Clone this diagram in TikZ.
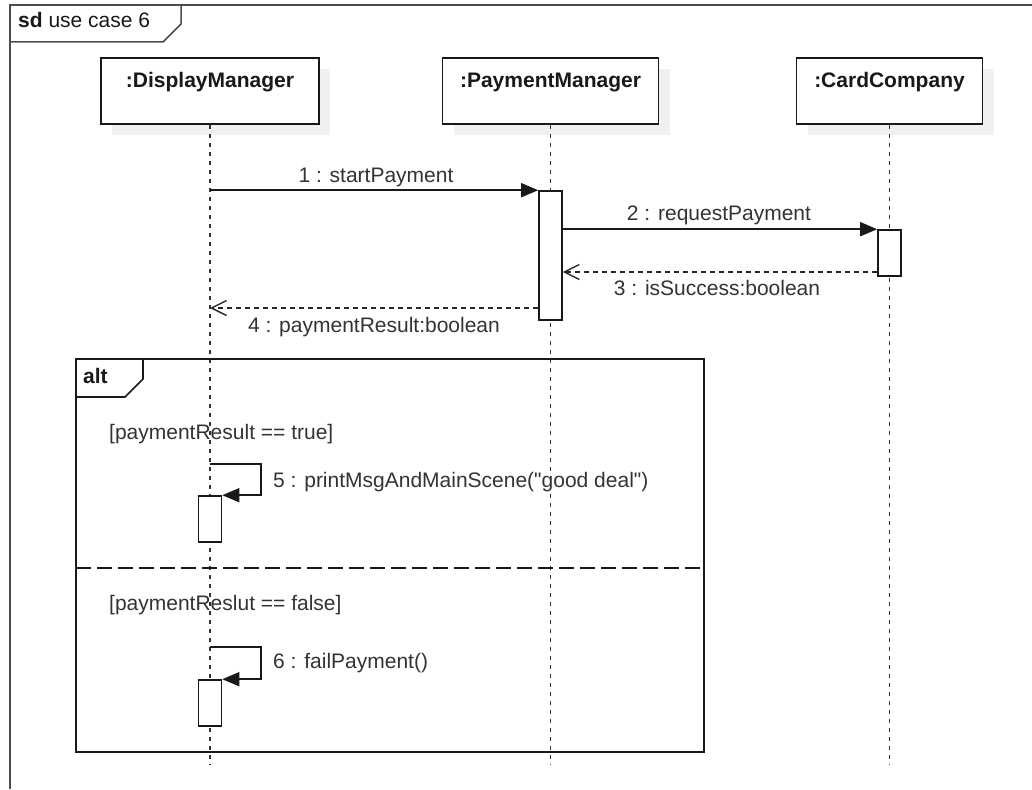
\documentclass[tikz,border=0pt]{standalone}
\usepackage{fontspec}
\setmainfont{Liberation Sans}[Ligatures=TeXOff]
\usetikzlibrary{arrows.meta,shadows}
\begin{document}
\begin{tikzpicture}[x=1pt,y=-1pt,
  every node/.style={font=\fontsize{21}{25}\selectfont, text=black!80},
  lbl/.style={inner sep=0pt},
  headbox/.style={draw=black!90, line width=1.6pt, fill=white, inner sep=0pt, anchor=north,
    text height=30pt, text depth=36pt, minimum height=66pt,
    font=\fontsize{21}{25}\selectfont\bfseries, text=black!90,
    general shadow={fill=black!6, draw=none, shadow xshift=11pt, shadow yshift=-11pt}},
  actbox/.style={draw=black!90, line width=1.6pt, fill=white, minimum width=23pt, inner sep=0pt},
  lifeline/.style={draw=black!80, line width=1.7pt, dash pattern=on 4pt off 5pt},
  msg/.style={draw=black!90, line width=1.6pt, -{Triangle[length=17pt,width=14pt]}},
  ret/.style={draw=black!85, line width=1.4pt, dash pattern=on 5pt off 4pt, -{Straight Barb[length=15pt,width=15pt]}},
  frame/.style={draw=black!90, line width=1.6pt},
  outer/.style={draw=black!70, line width=1.5pt},
  sepline/.style={draw=black!90, line width=1.6pt, dash pattern=on 15pt off 6pt}]
\useasboundingbox (0,0) rectangle (1032,789);

% outer frame
\draw[outer] (10,789) -- (10,5) -- (1032,5);
\draw[outer] (10,42) -- (163,42) -- (181,24) -- (181,5);
\node[lbl, anchor=base west, text=black!90] (sd) at (18,28) {\textbf{sd} use case 6};

% heads
\node[headbox, minimum width=218pt] (dm) at (210,57) {:DisplayManager};
\node[headbox, minimum width=216pt] (pm) at (550.5,57) {:PaymentManager};
\node[headbox, minimum width=186pt] (cc) at (889.5,57) {:CardCompany};

% lifelines
\draw[lifeline] (dm.south) -- (dm.south |- 0,764);
\draw[lifeline] (pm.south) -- (pm.south |- 0,764);
\draw[lifeline] (cc.south) -- (cc.south |- 0,764);

% alt frame
\draw[frame] (76,359) rectangle (704,752);
\draw[frame] (76,397) -- (125,397) -- (143,379) -- (143,359);
\node[lbl, anchor=base west, text=black!90] (alt) at (83,383) {\textbf{alt}};
\draw[sepline] (76,568) -- (704,568);
\node[lbl, anchor=base west] (g1) at (109,439) {[paymentResult == true]};
\node[lbl, anchor=base west] (g2) at (109,610) {[paymentReslut == false]};

% activations
\node[actbox, minimum height=129pt] (pa1) at (550.5,255.5) {};
\node[actbox, minimum height=46pt] (ca1) at (889.5,253) {};
\node[actbox, minimum height=46pt] (da5) at (210,519) {};
\node[actbox, minimum height=46pt] (da6) at (210,703) {};

% messages
\draw[msg] (dm.south |- pa1.north) -- (pa1.north west);
\node[lbl, anchor=base] (l1) at (376,182) {1 : startPayment};
\draw[msg] (pa1.east |- ca1.north) -- (ca1.north west);
\node[lbl, anchor=base] (l2) at (719,220) {2 : requestPayment};
\draw[ret] (ca1.west |- 0,272) -- (pa1.east |- 0,272);
\node[lbl, anchor=base] (l3) at (717,295) {3 : isSuccess:boolean};
\draw[ret] (pa1.west |- 0,308) -- (dm.south |- 0,308);
\node[lbl, anchor=base] (l4) at (374,332) {4 : paymentResult:boolean};

\coordinate (s5) at (261,464);
\draw[msg] (dm.south |- s5) -- (s5) -- (s5 |- da5.north) -- (da5.north east);
\node[lbl, anchor=base west] (l5) at (273,487) {5 : printMsgAndMainScene("good deal")};
\coordinate (s6) at (261,647);
\draw[msg] (dm.south |- s6) -- (s6) -- (s6 |- da6.north) -- (da6.north east);
\node[lbl, anchor=base west] (l6) at (273,668) {6 : failPayment()};
\end{tikzpicture}
\end{document}
